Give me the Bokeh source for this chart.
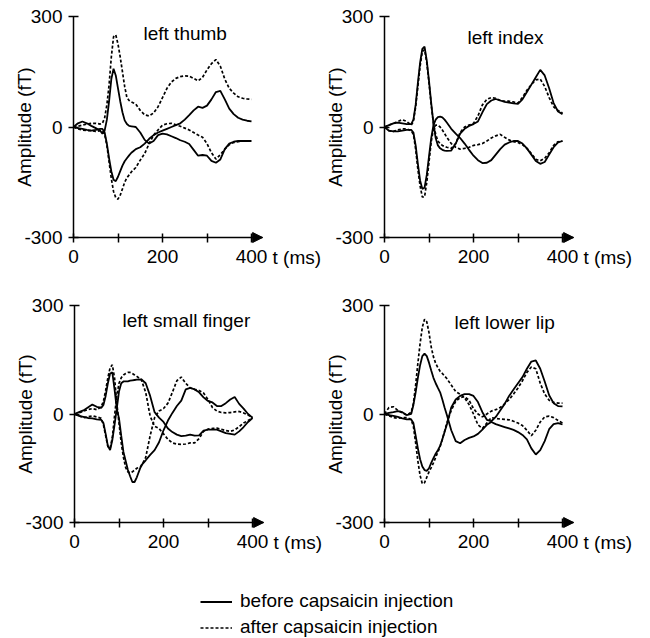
import math
import numpy as np
from bokeh.plotting import figure
from bokeh.models import (Range1d, FixedTicker, Label, Arrow, NormalHead,
                          Legend, LegendItem)
from bokeh.layouts import column, row
from bokeh.embed import file_html
from bokeh.resources import INLINE

# ---------------- data ----------------
t_ms = [0, 10, 20, 30, 40, 50, 60,
        65, 70, 75, 80, 85, 90, 95, 100, 105, 110, 115, 120, 125, 130, 135, 140,
        150, 160, 170, 180, 190, 200, 210, 220, 230, 240, 250, 260, 270, 280, 290,
        300, 310, 320, 330, 340, 350, 360, 370, 380, 390, 400]

panel_names = ["left thumb", "left index", "left small finger", "left lower lip"]
y_ticks = [-300, 0, 300]
x_ticks = [0, 100, 200, 300, 400]
legend_labels = ["before capsaicin injection", "after capsaicin injection"]

thumb_before_a = [0, 10, 15, 10, 3, -3, -10,
                  -18, -10, 20, 70, 130, 158, 140, 105, 70, 40, 18, 8, 3, 2, 1, 0,
                  -15, -35, -45, -38, -22, -18, -20, -25, -30, -36, -40, -46, -62, -78, -76,
                  -78, -92, -97, -88, -60, -45, -40, -38, -38, -38, -38]
thumb_before_b = [0, -3, -5, -8, -10, -8, -5,
                  -5, -15, -45, -85, -120, -143, -147, -135, -120, -105, -93, -85, -77, -70, -65, -60,
                  -55, -45, -32, -22, -15, -10, -5, 0, 5, 10, 20, 32, 45, 55, 52,
                  58, 75, 95, 98, 75, 50, 35, 25, 20, 17, 15]
thumb_after_a = [0, 2, 5, 8, 10, 10, 8,
                 10, 25, 60, 115, 190, 245, 250, 225, 190, 150, 110, 80, 72, 68, 65, 62,
                 45, 33, 30, 38, 55, 80, 105, 122, 132, 137, 139, 138, 132, 125, 135,
                 155, 172, 183, 165, 130, 105, 92, 82, 78, 76, 75]
thumb_after_b = [0, -5, -8, -10, -10, -12, -10,
                 -10, -20, -50, -95, -140, -175, -192, -196, -185, -168, -150, -138, -130, -122, -116, -110,
                 -90, -72, -45, -22, -8, 5, 9, 10, 6, 2, -3, -8, -15, -22, -28,
                 -45, -70, -87, -75, -60, -48, -42, -40, -38, -38, -38]

index_before_a = [0, 5, 10, 12, 10, 8, 8,
                  20, 60, 120, 175, 212, 218, 180, 125, 65, 10, -30, -50, -58, -62, -64, -65,
                  -64, -45, -18, -5, 3, 8, 15, 40, 62, 72, 76, 72, 68, 66, 64,
                  63, 75, 95, 115, 135, 155, 140, 105, 65, 42, 35]
index_before_b = [0, -10, -12, -12, -10, -8, -8,
                  -15, -50, -100, -145, -168, -165, -130, -80, -30, 5, 20, 27, 28, 26, 20, 12,
                  -5, -18, -30, -45, -62, -78, -90, -98, -97, -90, -75, -60, -48, -42, -38,
                  -38, -45, -58, -75, -92, -100, -95, -75, -55, -42, -38]
index_after_a = [0, 5, 10, 15, 20, 15, 5,
                 15, 55, 110, 165, 205, 210, 175, 120, 60, 10, -20, -38, -45, -50, -53, -55,
                 -58, -45, -15, 0, 5, 10, 30, 60, 75, 80, 78, 72, 70, 70, 68,
                 65, 80, 100, 115, 128, 130, 110, 80, 55, 45, 38]
index_after_b = [0, -10, -12, -8, -5, -5, -10,
                 -20, -60, -115, -160, -190, -190, -150, -95, -40, -5, 5, 5, 0, -8, -18, -28,
                 -45, -55, -60, -58, -55, -50, -48, -45, -38, -30, -24, -20, -28, -35, -40,
                 -42, -48, -58, -72, -88, -92, -85, -70, -50, -40, -38]

small_before_a = [0, 5, 10, 18, 26, 20, 17,
                  25, 50, 85, 112, 115, 68, 15, -12, -60, -105, -130, -155, -172, -188, -188, -175,
                  -142, -128, -113, -100, -78, -45, -18, 3, 22, 37, 68, 72, 68, 60, 46,
                  36, 32, 22, 22, 30, 40, 47, 28, 15, 0, -10]
small_before_b = [0, -5, -8, -11, -12, -15, -16,
                  -25, -55, -88, -100, -72, -30, 15, 62, 85, 90, 90, 90, 92, 93, 94, 95,
                  96, 85, 50, 5, -10, -22, -40, -50, -57, -61, -60, -57, -60, -59, -46,
                  -43, -43, -43, -48, -53, -55, -57, -48, -36, -22, -11]
small_after_a = [0, 3, 8, 12, 15, 12, 20,
                 35, 65, 100, 128, 136, 100, 30, -25, -80, -120, -148, -160, -163, -160, -155, -150,
                 -145, -120, -60, -10, 8, 15, 30, 60, 92, 102, 85, 72, 68, 65, 58,
                 40, 18, 8, 4, 3, 4, 6, 7, 3, -3, -10]
small_after_b = [0, -5, -10, -8, -5, -8, -12,
                 -30, -60, -90, -95, -65, -5, 50, 85, 100, 108, 112, 115, 115, 112, 108, 104,
                 95, 60, -6, -34, -40, -55, -70, -80, -83, -84, -83, -80, -80, -68, -48,
                 -42, -40, -39, -42, -46, -48, -44, -35, -25, -18, -11]

lip_before_a = [0, 3, 5, 8, 5, -3, 0,
                25, 60, 100, 135, 160, 167, 160, 142, 120, 100, 85, 72, 60, 40, 18, -2,
                -45, -75, -81, -72, -66, -62, -55, -43, -30, -22, -28, -32, -36, -40, -44,
                -50, -58, -70, -95, -112, -100, -75, -42, -28, -25, -29]
lip_before_b = [0, -3, -5, -8, -12, -15, -15,
                -25, -60, -95, -125, -145, -155, -157, -150, -135, -122, -110, -100, -88, -70, -50, -30,
                18, 40, 50, 55, 55, 50, 33, 5, -16, -20, -8, 10, 28, 50, 68,
                85, 102, 125, 145, 148, 125, 90, 52, 30, 22, 21]
lip_after_a = [0, 18, 20, 10, 3, -3, 5,
               30, 80, 140, 195, 240, 262, 255, 225, 185, 158, 140, 128, 118, 112, 105, 98,
               80, 62, 55, 45, 26, 0, -30, -40, -25, -10, -12, -14, -15, -16, -20,
               -25, -32, -45, -60, -45, -22, -8, -6, -10, -18, -25]
lip_after_b = [0, -5, -10, -12, -10, -10, -15,
               -35, -80, -130, -170, -193, -190, -175, -160, -148, -135, -120, -105, -90, -70, -48, -25,
               10, 35, 45, 48, 38, 15, 0, -8, 0, 8, 12, 18, 28, 40, 55,
               72, 92, 115, 130, 125, 85, 55, 38, 32, 30, 30]

before_series = [[thumb_before_a, thumb_before_b], [index_before_a, index_before_b],
                 [small_before_a, small_before_b], [lip_before_a, lip_before_b]]
after_series = [[thumb_after_a, thumb_after_b], [index_after_a, index_after_b],
                [small_after_a, small_after_b], [lip_after_a, lip_after_b]]

# ---------------- styling / layout (pixels) ----------------
FONT = "Liberation Sans"
FS = "19px"
SX = 0.445                      # px per ms
SOLID_W = 1.8
DOT_W = 1.7
DOT_DASH = "3 2"
# per panel: figure width, figure height, y-axis x inside figure,
#            y of +300 and of -300 inside figure
panel_geom = [(323, 296, 73, 16, 237),
              (319, 296, 61, 16, 237),
              (323, 288, 74, 9, 226),
              (319, 288, 61, 9, 226)]
title_px = [(70, 33), (83, 37), (48, 24), (70, 26)]   # left edge from axis / middle from fig top
AMP_DX = -49     # px from axis (centre of rotated label)
TMS_DX = 199     # px from axis
TMS_DY = 20      # px below x axis


def make_panel(i):
    w, h, ax_x, y_top, y_bot = panel_geom[i]
    sy = (y_bot - y_top) / 600.0
    xr = Range1d(-ax_x / SX, (w - ax_x) / SX)
    yr = Range1d(-300 - (h - y_bot) / sy, 300 + y_top / sy)
    p = figure(width=w, height=h, x_range=xr, y_range=yr,
               output_backend="svg", toolbar_location=None, min_border=0)
    p.grid.visible = False
    p.outline_line_color = None
    p.background_fill_color = "white"
    p.border_fill_color = "white"

    for ax in (p.xaxis[0], p.yaxis[0]):
        ax.axis_line_color = "black"
        ax.axis_line_width = 1.5
        ax.major_tick_line_color = "black"
        ax.major_tick_line_width = 1.5
        ax.minor_tick_line_color = None
        ax.major_label_text_font = FONT
        ax.major_label_text_font_size = FS
        ax.major_label_text_color = "black"
    p.xaxis.fixed_location = -300
    p.xaxis.bounds = (0, 425)
    p.xaxis.ticker = FixedTicker(ticks=x_ticks)
    p.xaxis.major_label_overrides = {100: "", 300: ""}
    p.xaxis.major_tick_in = 4
    p.xaxis.major_tick_out = 5
    p.xaxis.major_label_standoff = 7
    p.yaxis.fixed_location = 0
    p.yaxis.bounds = (-300, 300)
    p.yaxis.ticker = FixedTicker(ticks=y_ticks)
    p.yaxis.major_label_overrides = {-300: "-300"}
    p.yaxis.major_tick_in = 5
    p.yaxis.major_tick_out = 5
    p.yaxis.major_label_standoff = 6

    for vals in before_series[i]:
        p.line(t_ms, vals, line_color="black", line_width=SOLID_W)
    for vals in after_series[i]:
        p.line(t_ms, vals, line_color="black", line_width=DOT_W, line_dash=DOT_DASH)

    p.add_layout(Arrow(end=NormalHead(size=10, fill_color="black", line_color="black", line_width=1),
                       x_start=405, y_start=-300, x_end=425, y_end=-300,
                       line_color="black", line_width=1.5))

    tdx, tdy = title_px[i]
    p.add_layout(Label(x=tdx / SX, y=300 - (tdy - y_top) / sy, text=panel_names[i],
                       text_font=FONT, text_font_size=FS,
                       text_baseline="middle", text_align="left", text_color="black"))
    p.add_layout(Label(x=AMP_DX / SX, y=0, text="Amplitude (fT)", angle=math.pi / 2,
                       text_font=FONT, text_font_size=FS, text_baseline="middle",
                       text_align="center", text_color="black"))
    p.add_layout(Label(x=TMS_DX / SX, y=-300 - TMS_DY / sy, text="t (ms)",
                       text_font=FONT, text_font_size=FS,
                       text_baseline="middle", text_align="left", text_color="black"))
    return p


panels = [make_panel(i) for i in range(4)]

lg = figure(width=642, height=54, output_backend="svg", toolbar_location=None,
            x_range=Range1d(0, 1), y_range=Range1d(0, 1),
            x_axis_location=None, y_axis_location=None, min_border=0)
lg.grid.visible = False
lg.outline_line_color = None
r_before = lg.line(x=np.array([np.nan]), y=np.array([np.nan]),
                   line_color="black", line_width=SOLID_W)
r_after = lg.line(x=np.array([np.nan]), y=np.array([np.nan]),
                  line_color="black", line_width=DOT_W, line_dash=DOT_DASH)
legend = Legend(items=[LegendItem(label=legend_labels[0], renderers=[r_before]),
                       LegendItem(label=legend_labels[1], renderers=[r_after])],
                location=(200, 0), orientation="vertical",
                label_text_font=FONT, label_text_font_size=FS, label_text_color="black",
                glyph_width=32, glyph_height=19, label_height=19, label_standoff=8,
                spacing=4, padding=0, margin=0,
                border_line_color=None, background_fill_alpha=0)
lg.add_layout(legend)

layout = column(row(panels[0], panels[1]), row(panels[2], panels[3]), lg)

open("out.html", "w").write(file_html(layout, INLINE))
